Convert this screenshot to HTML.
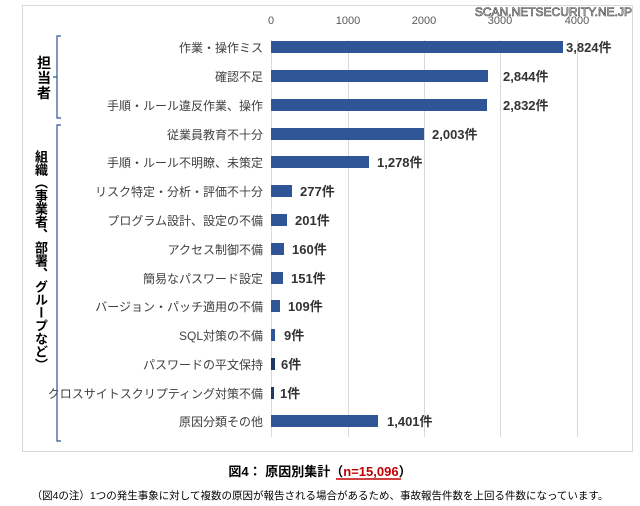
<!DOCTYPE html>
<html><head><meta charset="utf-8"><style>
body{margin:0;width:640px;height:506px;background:#fff;overflow:hidden;font-family:"Liberation Sans","Noto Sans CJK JP",sans-serif;position:relative}
svg text{font-family:"Liberation Sans","Noto Sans CJK JP",sans-serif}
.vt{position:absolute;left:33px;top:150px;writing-mode:vertical-rl;font-family:"Noto Sans CJK JP",sans-serif;font-size:13px;font-weight:bold;color:#000;line-height:16px;letter-spacing:0}
</style></head><body>
<svg width="640" height="506" viewBox="0 0 640 506" style="position:absolute;left:0;top:0">
<rect x="22.5" y="5.5" width="610" height="446" fill="#fff" stroke="#d9d9d9"/>
<g stroke="#d9d9d9" stroke-width="1">
<line x1="271.5" y1="40" x2="271.5" y2="437"/>
<line x1="348.5" y1="40" x2="348.5" y2="437"/>
<line x1="424.5" y1="40" x2="424.5" y2="437"/>
<line x1="500.5" y1="40" x2="500.5" y2="437"/>
<line x1="577.5" y1="40" x2="577.5" y2="437"/>
</g>
<g font-size="11" fill="#595959" text-anchor="middle">
<text x="271" y="24">0</text><text x="348" y="24">1000</text><text x="424" y="24">2000</text><text x="500" y="24">3000</text><text x="577" y="24">4000</text>
</g>
<text x="632" y="16" font-size="12" fill="#fff" stroke="#333" stroke-width="0.6" text-anchor="end">SCAN.NETSECURITY.NE.JP</text>
<g fill="#2f5597">
<rect x="271" y="41" width="292" height="12"/>
<rect x="271" y="70" width="217" height="12"/>
<rect x="271" y="99" width="216" height="12"/>
<rect x="271" y="128" width="153" height="12"/>
<rect x="271" y="156" width="98" height="12"/>
<rect x="271" y="185" width="21" height="12"/>
<rect x="271" y="214" width="16" height="12"/>
<rect x="271" y="243" width="13" height="12"/>
<rect x="271" y="272" width="12" height="12"/>
<rect x="271" y="300" width="9" height="12"/>
<rect x="271" y="329" width="4" height="12"/>
<rect x="271" y="358" width="4" height="12" fill="#1f3864"/>
<rect x="271" y="387" width="3" height="12" fill="#1f3864"/>
<rect x="271" y="415" width="107" height="12"/>
</g>
<g font-size="12" fill="#404040" text-anchor="end">
<text x="263" y="52">作業・操作ミス</text>
<text x="263" y="81">確認不足</text>
<text x="263" y="110">手順・ルール違反作業、操作</text>
<text x="263" y="139">従業員教育不十分</text>
<text x="263" y="167">手順・ルール不明瞭、未策定</text>
<text x="263" y="196">リスク特定・分析・評価不十分</text>
<text x="263" y="225">プログラム設計、設定の不備</text>
<text x="263" y="254">アクセス制御不備</text>
<text x="263" y="283">簡易なパスワード設定</text>
<text x="263" y="311">バージョン・パッチ適用の不備</text>
<text x="263" y="340">SQL対策の不備</text>
<text x="263" y="369">パスワードの平文保持</text>
<text x="263" y="398">クロスサイトスクリプティング対策不備</text>
<text x="263" y="426">原因分類その他</text>
</g>
<g font-size="13" font-weight="bold" fill="#333">
<text x="566" y="52">3,824件</text>
<text x="503" y="81">2,844件</text>
<text x="503" y="110">2,832件</text>
<text x="432" y="139">2,003件</text>
<text x="377" y="167">1,278件</text>
<text x="300" y="196">277件</text>
<text x="295" y="225">201件</text>
<text x="292" y="254">160件</text>
<text x="291" y="283">151件</text>
<text x="288" y="311">109件</text>
<text x="284" y="340">9件</text>
<text x="281" y="369">6件</text>
<text x="280" y="398">1件</text>
<text x="387" y="426">1,401件</text>
</g>
<g stroke="#2f5597" fill="none" stroke-width="1.2">
<path d="M61 36 H57 V118 H61 M57 77 H53"/>
<path d="M61 125 H57 V441 H61"/>
</g>
<g font-size="14" font-weight="bold" fill="#000" text-anchor="middle">
<text x="44" y="68">担</text><text x="44" y="83">当</text><text x="44" y="98">者</text>
</g>
<text x="320" y="476" font-size="13" font-weight="bold" text-anchor="middle" fill="#000">図4：  原因別集計（<tspan fill="#c00000">n=15,096</tspan>）</text>
<line x1="336" y1="479" x2="401" y2="479" stroke="#c00000" stroke-width="1.5"/>
<text x="320" y="499" font-size="10.5" text-anchor="middle" fill="#000">（図4の注）1つの発生事象に対して複数の原因が報告される場合があるため、事故報告件数を上回る件数になっています。</text>
</svg>
<div class="vt">組織（事業者、部署、グループなど）</div>
</body></html>
